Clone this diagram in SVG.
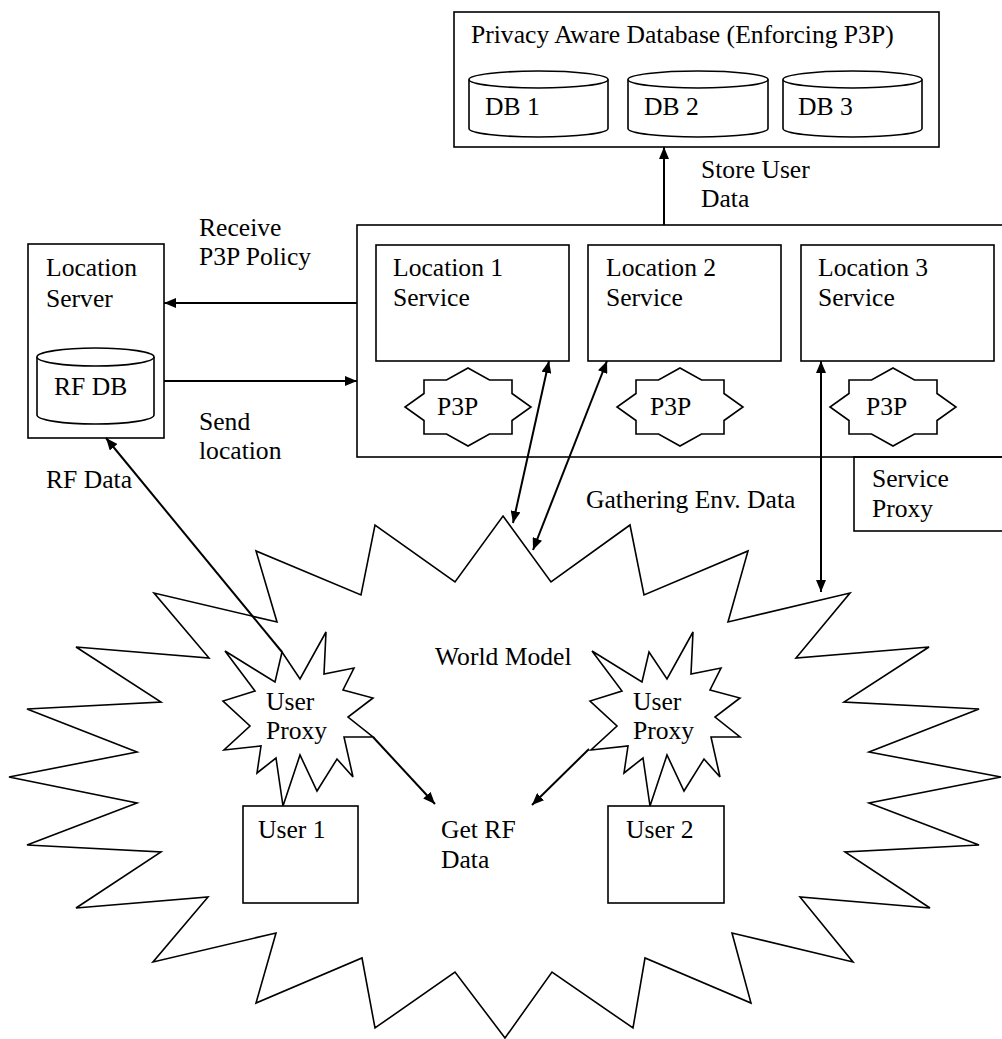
<svg xmlns="http://www.w3.org/2000/svg" xmlns:xlink="http://www.w3.org/1999/xlink" width="1002" height="1039" viewBox="0 0 1002 1039">
<style>
text{font-family:"Liberation Serif","Times New Roman",serif;font-size:25.6px;fill:#000}
.box{fill:#fff;stroke:#000;stroke-width:1.6}
.open{fill:none;stroke:#000;stroke-width:1.6}
.shape{fill:#fff;stroke:#000;stroke-width:1.6;stroke-linejoin:miter}
.arr{fill:none;stroke:#000;stroke-width:2;marker-end:url(#ah)}
.arr2{fill:none;stroke:#000;stroke-width:2;marker-end:url(#ah);marker-start:url(#ah)}
</style>
<defs>
<marker id="ah" viewBox="0 0 12 10" refX="12" refY="5" markerWidth="12" markerHeight="10" markerUnits="userSpaceOnUse" orient="auto-start-reverse">
<path d="M0,0 L12,5 L0,10 z" fill="#000"/>
</marker>
<polygon id="p3p" points="0,-39 21.5,-27 44,-27 44,-13.5 63,0 44,13.5 44,27 21.5,27 0,39 -21.5,27 -44,27 -44,13.5 -63,0 -44,-13.5 -44,-27 -21.5,-27"/>
<polygon id="proxy" points="326,632 324,674 354,668 343,690 373,698 348,717 373,737 344,737 353,777 337,759 317,791 300,755 283,806 276,758 257,773 261,746 224,750 250,726 223,701 255,691 225,651 275,682 282,652 300,679"/>
</defs>
<rect width="1002" height="1039" fill="#fff"/>

<g id="privacy-db">
<rect class="box" x="454" y="12" width="485" height="135"/>
<text x="471" y="43">Privacy Aware Database (Enforcing P3P)</text>
<g id="db1">
<path class="shape" d="M469,79.5 V128.5 A69.5,8.5 0 0 0 608,128.5 V79.5"/>
<ellipse class="shape" cx="538.5" cy="79.5" rx="69.5" ry="8.5"/>
<text x="485" y="115">DB 1</text>
</g>
<g id="db2">
<path class="shape" d="M628,79.5 V128.5 A70,8.5 0 0 0 768,128.5 V79.5"/>
<ellipse class="shape" cx="698" cy="79.5" rx="70" ry="8.5"/>
<text x="644" y="115">DB 2</text>
</g>
<g id="db3">
<path class="shape" d="M783,79.5 V128.5 A69.5,8.5 0 0 0 922,128.5 V79.5"/>
<ellipse class="shape" cx="852.5" cy="79.5" rx="69.5" ry="8.5"/>
<text x="798" y="115">DB 3</text>
</g>
</g>

<g id="location-server">
<rect class="box" x="28" y="244" width="136" height="194"/>
<text x="46" y="276">Location</text>
<text x="46" y="307">Server</text>
<g id="rf-db">
<path class="shape" d="M37,357 V415 A58.5,9 0 0 0 154,415 V357"/>
<ellipse class="shape" cx="95.5" cy="357" rx="58.5" ry="9"/>
<text x="54" y="395">RF DB</text>
</g>
</g>

<g id="services">
<rect class="box" x="357" y="225" width="700" height="232"/>
<g id="loc1">
<rect class="box" x="376" y="245" width="193" height="116"/>
<text x="393" y="276">Location 1</text>
<text x="393" y="306">Service</text>
</g>
<g id="loc2">
<rect class="box" x="588" y="245" width="193" height="116"/>
<text x="606" y="276">Location 2</text>
<text x="606" y="306">Service</text>
</g>
<g id="loc3">
<rect class="box" x="801" y="245" width="193" height="116"/>
<text x="818" y="276">Location 3</text>
<text x="818" y="306">Service</text>
</g>
<g id="p3p1">
<use xlink:href="#p3p" class="shape" x="468" y="407"/>
<text x="437" y="415">P3P</text>
</g>
<g id="p3p2">
<use xlink:href="#p3p" class="shape" x="680" y="407"/>
<text x="650" y="415">P3P</text>
</g>
<g id="p3p3">
<use xlink:href="#p3p" class="shape" x="893" y="407"/>
<text x="866" y="415">P3P</text>
</g>
</g>

<g id="service-proxy">
<rect class="open" x="854" y="457" width="200" height="74"/>
<text x="872" y="487">Service</text>
<text x="872" y="517">Proxy</text>
</g>

<g id="world-model">
<polygon class="shape" points="503,516 551,582 630,525 644,595 748,551 728,622 850,593 796,658 929,647 844,702 979,709 869,752 1001,777 869,803 979,845 845,852 930,908 800,897 853,962 732,933 751,1003 645,958 633,1028 552,972 505,1038 455,972 375,1028 362,958 256,1003 276,933 153,962 208,897 76,908 161,852 27,845 137,803 9,777 137,752 27,709 161,702 76,647 209,658 154,593 277,622 256,551 361,595 375,525 455,582"/>
<text x="435" y="665">World Model</text>
</g>

<g id="user-proxy-1">
<use xlink:href="#proxy" class="shape"/>
<text x="266" y="710">User</text>
<text x="266" y="739">Proxy</text>
</g>
<g id="user-proxy-2">
<use xlink:href="#proxy" class="shape" x="367"/>
<text x="633" y="710">User</text>
<text x="633" y="739">Proxy</text>
</g>

<g id="user1">
<rect class="box" x="243" y="806" width="115" height="97"/>
<text x="258" y="838">User 1</text>
</g>
<g id="user2">
<rect class="box" x="608" y="806" width="116" height="97"/>
<text x="626" y="838">User 2</text>
</g>

<g id="connectors">
<line class="arr" x1="664" y1="225" x2="664" y2="147"/>
<line class="arr" x1="357" y1="303" x2="164" y2="303"/>
<line class="arr" x1="164" y1="381" x2="357" y2="381"/>
<line class="arr2" x1="549" y1="361" x2="513" y2="523"/>
<line class="arr2" x1="607" y1="361" x2="533" y2="550"/>
<line class="arr2" x1="821" y1="361" x2="821" y2="592"/>
<line class="arr" x1="282" y1="652" x2="106" y2="438"/>
<line class="arr" x1="373" y1="737" x2="435" y2="804"/>
<line class="arr" x1="589" y1="749" x2="532" y2="805"/>
</g>

<g id="labels">
<text x="701" y="178">Store User</text>
<text x="701" y="207">Data</text>
<text x="199" y="236">Receive</text>
<text x="199" y="265">P3P Policy</text>
<text x="199" y="430">Send</text>
<text x="199" y="459">location</text>
<text x="46" y="488">RF Data</text>
<text x="586" y="508">Gathering Env. Data</text>
<text x="441" y="838">Get RF</text>
<text x="441" y="868">Data</text>
</g>
</svg>
